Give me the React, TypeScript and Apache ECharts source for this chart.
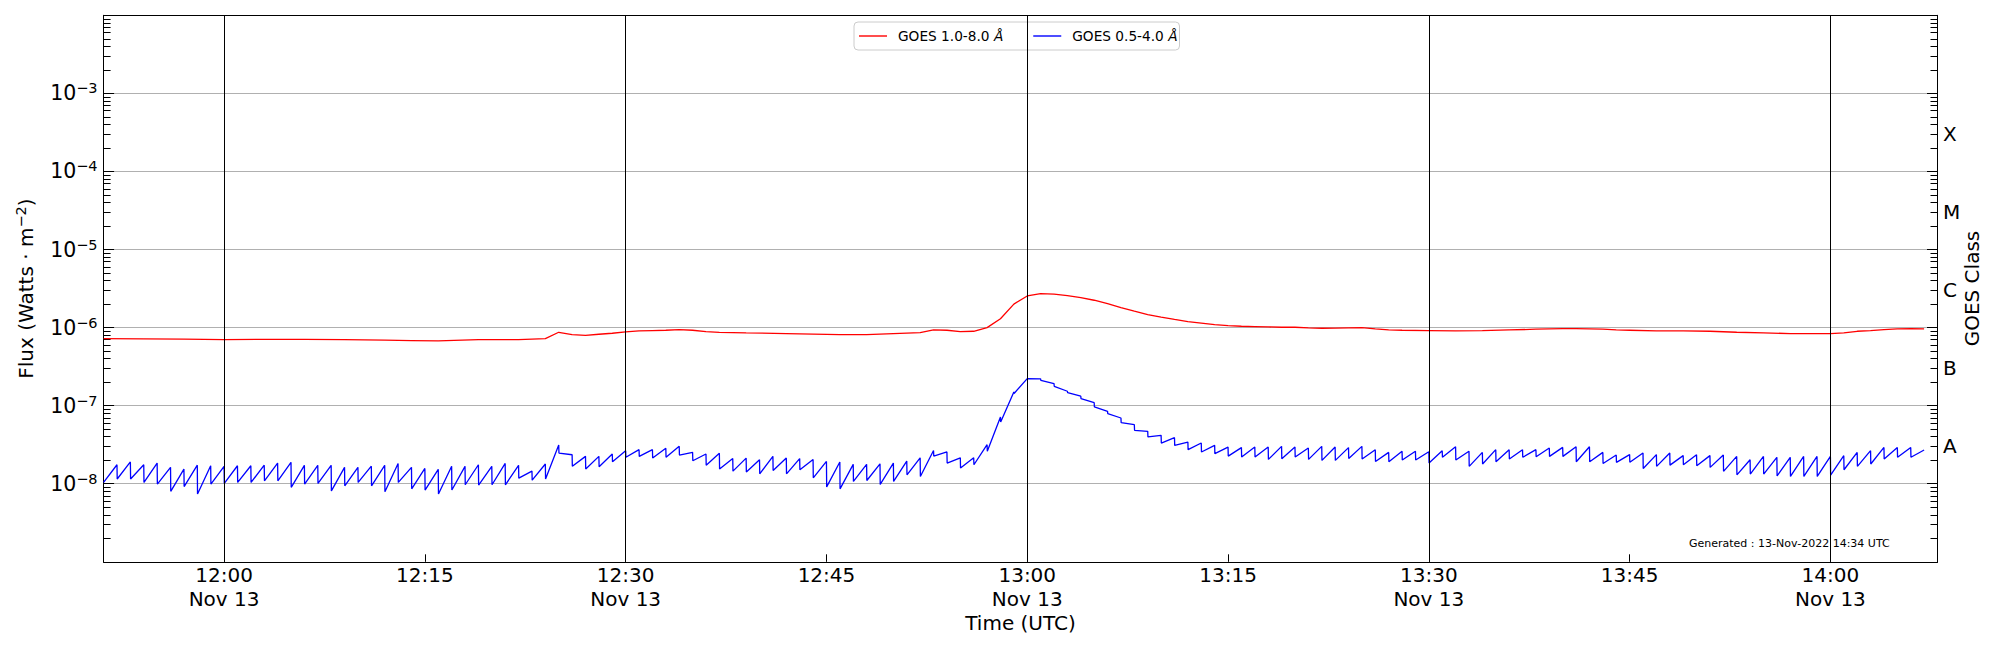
import { useEffect, useRef } from 'react';
import * as echarts from 'echarts';

// Time in minutes after midnight (UTC), 13 Nov 2022
const START_MIN = 711; // 11:51
const END_MIN = 848; // 14:08
const DATE_LABEL = 'Nov 13';
const X_TICKS = [720, 735, 750, 765, 780, 795, 810, 825, 840];
const X_GRID = [720, 750, 780, 810, 840];

const Y_MIN = 1e-9;
const Y_MAX = 1e-2;
const Y_LABEL_EXPONENTS = [-8, -7, -6, -5, -4, -3];
const GOES_CLASSES = ['A', 'B', 'C', 'M', 'X'];
const GOES_CLASS_LEVELS = [3e-8, 3e-7, 3e-6, 3e-5, 3e-4];

const LONG_NAME = 'GOES 1.0-8.0 Å';
const SHORT_NAME = 'GOES 0.5-4.0 Å';
const GENERATED_TEXT = 'Generated : 13-Nov-2022 14:34 UTC';

// GOES 1.0-8.0 Å flux (units of 1e-6 W/m²), minute offsets from 11:51
const redMinute = [0, 3, 6, 9, 12, 15, 18, 21, 23, 25, 28, 31, 33, 34, 35, 36, 37, 38, 39, 40,
  41, 42, 43, 44, 45, 46, 48, 51, 55, 57, 59, 61, 62, 63, 64, 65, 66, 67, 68, 69,
  70, 71, 72, 73, 74, 75, 76, 77, 78, 79, 80, 81, 82, 83, 84, 85, 86, 87, 88, 89,
  90, 91, 92, 94, 95, 96, 97, 99, 101, 103, 105, 107, 109, 110, 111, 112, 113, 114, 116, 118,
  120, 122, 124, 126, 129, 130, 131, 132, 133, 134, 135, 136];
const redFlux = [0.722, 0.715, 0.71, 0.702, 0.708, 0.708, 0.70, 0.69, 0.681, 0.674,
  0.702, 0.702, 0.722, 0.871, 0.813, 0.797, 0.822, 0.846, 0.880, 0.906,
  0.916, 0.925, 0.943, 0.925, 0.889, 0.870, 0.855, 0.838, 0.813, 0.813,
  0.838, 0.863, 0.933, 0.924, 0.889, 0.897, 1.00, 1.30, 2.00, 2.54,
  2.73, 2.68, 2.57, 2.42, 2.24, 2.03, 1.80, 1.62, 1.47, 1.36,
  1.27, 1.19, 1.14, 1.09, 1.06, 1.04, 1.03, 1.02, 1.01, 1.01,
  0.99, 0.98, 0.985, 1.00, 0.962, 0.933, 0.924, 0.915, 0.906, 0.915,
  0.933, 0.953, 0.971, 0.971, 0.962, 0.953, 0.933, 0.925, 0.905, 0.906,
  0.897, 0.871, 0.855, 0.838, 0.838, 0.855, 0.897, 0.915, 0.942, 0.962,
  0.971, 0.962];
const RED_UNIT = 1e-6;

// GOES 0.5-4.0 Å flux (units of 1e-8 W/m²): value reached at the end of each minute (minutes 1..136)
const blueTop = [
  1.75, 1.90, 1.75, 1.84, 1.62, 1.54, 1.73, 1.70, 1.67, 1.70,
  1.70, 1.73, 1.84, 1.88, 1.72, 1.72, 1.72, 1.62, 1.62, 1.68,
  1.72, 1.82, 1.62, 1.57, 1.53, 1.67, 1.67, 1.75, 1.67, 1.82,
  1.72, 1.45, 1.79, 3.13, 2.35, 2.24, 2.24, 2.40, 2.65, 2.73,
  2.73, 2.84, 3.01, 2.52, 2.40, 2.45, 2.10, 2.13, 2.03, 2.24,
  2.13, 2.10, 2.05, 1.93, 1.90, 1.77, 1.77, 1.80, 1.84, 1.95,
  2.15, 2.67, 2.55, 2.15, 2.15, 3.16, 7.16, 15.0, 22.2, 22.0,
  19.2, 15.3, 13.2, 10.9, 8.46, 6.95, 5.70, 4.69, 4.17, 3.89,
  3.42, 3.32, 3.10, 2.95, 2.90, 2.95, 2.95, 3.01, 2.95, 2.87,
  3.01, 2.95, 2.90, 3.01, 2.73, 2.52, 2.60, 2.60, 2.57, 2.65,
  2.98, 2.60, 2.52, 2.73, 2.73, 2.73, 2.73, 2.87, 2.92, 2.98,
  2.98, 2.52, 2.33, 2.36, 2.47, 2.36, 2.47, 2.29, 2.35, 2.29,
  2.33, 2.24, 2.03, 2.24, 2.18, 2.18, 2.24, 2.24, 2.24, 2.29,
  2.52, 2.65, 2.92, 2.92, 2.92, 2.70];
// value right after the reset at the start of each minute (minutes 0..135)
const blueBottom = [
  1.04, 1.15, 1.15, 1.04, 0.99, 0.80, 0.92, 0.74, 0.99, 1.01,
  1.04, 1.04, 1.09, 1.09, 0.90, 0.99, 1.01, 0.81, 0.94, 1.04,
  0.94, 0.79, 1.04, 0.86, 0.83, 0.74, 0.83, 0.97, 0.96, 0.97,
  0.97, 1.18, 1.11, 1.15, 2.47, 1.67, 1.54, 1.65, 1.91, 2.18,
  2.24, 2.13, 2.18, 2.33, 1.97, 1.73, 1.54, 1.45, 1.41, 1.34,
  1.48, 1.34, 1.51, 1.19, 0.91, 0.86, 1.07, 1.10, 0.98, 1.07,
  1.30, 1.24, 2.26, 1.84, 1.59, 1.75, 2.60, 6.18, 14.3, 21.9,
  21.1, 17.7, 14.7, 12.3, 9.62, 7.89, 6.05, 4.83, 3.97, 3.32,
  3.10, 2.73, 2.55, 2.43, 2.26, 2.20, 2.20, 2.05, 2.09, 2.20,
  2.05, 1.99, 1.99, 2.10, 2.07, 1.93, 1.91, 2.01, 2.01, 1.84,
  2.18, 2.01, 1.67, 1.79, 1.91, 2.07, 2.18, 2.22, 2.24, 2.24,
  1.91, 1.91, 1.82, 1.88, 1.88, 1.57, 1.67, 1.73, 1.75, 1.70,
  1.62, 1.44, 1.30, 1.33, 1.33, 1.26, 1.24, 1.24, 1.24, 1.29,
  1.51, 1.67, 1.79, 2.07, 2.18, 2.18];
const BLUE_UNIT = 1e-8;

const FONT = 'DejaVu Sans';

function buildOption() {
  const redData = redMinute.map((m, i) => [START_MIN + m, redFlux[i] * RED_UNIT]);
  const blueData: number[][] = [[START_MIN, blueBottom[0] * BLUE_UNIT]];
  for (let m = 1; m <= blueTop.length; m++) {
    blueData.push([START_MIN + m, blueTop[m - 1] * BLUE_UNIT]);
    if (m < blueBottom.length) blueData.push([START_MIN + m + 1 / 60, blueBottom[m] * BLUE_UNIT]);
  }

  const minorPositions: number[] = [];
  for (let e = -9; e < -2; e++) for (let k = 2; k <= 9; k++) minorPositions.push(e + Math.log10(k));
  const classPositions = GOES_CLASS_LEVELS.map((v) => Math.log10(v));

  const pad = (n: number) => (n < 10 ? '0' + n : '' + n);
  const xFormatter = (v: number) => {
    const h = Math.floor(v / 60);
    const mm = Math.round(v - h * 60);
    const s = `${h}:${pad(mm)}`;
    return mm % 30 === 0 ? `${s}\n${DATE_LABEL}` : s;
  };
  const yFormatter = (v: number) => {
    const e = Math.round(Math.log10(v));
    return Y_LABEL_EXPONENTS.includes(e) ? `{b|10}{s|−${-e}}` : '';
  };
  const black = '#000000';
  const supRich = {
    b: { fontSize: 20.5, color: black, fontFamily: FONT },
    s: { fontSize: 14.5, color: black, fontFamily: FONT, padding: [0, 0, 10, 0] },
    t: { fontSize: 20, color: black, fontFamily: FONT },
  };

  return {
    animation: false,
    backgroundColor: '#ffffff',
    textStyle: { fontFamily: FONT, color: black },
    grid: { left: 103.6, right: 62.5, top: 15.3, bottom: 88.2, containLabel: false, outerBoundsMode: 'none' },
    legend: {
      left: 854,
      top: 22,
      orient: 'horizontal',
      selectedMode: false,
      icon: 'rect',
      itemWidth: 28,
      itemHeight: 1.4,
      itemGap: 30,
      padding: [6, 2, 6, 5],
      borderColor: '#cccccc',
      borderWidth: 1,
      borderRadius: 4,
      backgroundColor: 'rgba(255,255,255,0.8)',
      data: [LONG_NAME, SHORT_NAME],
      formatter: (name: string) => name.replace('Å', '{i|Å}'),
      textStyle: {
        fontSize: 13.7,
        lineHeight: 16,
        color: black,
        fontFamily: FONT,
        padding: [0, 0, 0, 6],
        rich: { i: { fontSize: 13.7, fontStyle: 'italic', color: black, fontFamily: FONT } },
      },
    },
    xAxis: [
      {
        type: 'value',
        min: START_MIN,
        max: END_MIN,
        position: 'bottom',
        z: 3,
        axisLine: { show: true, onZero: false, lineStyle: { color: black, width: 1 } },
        axisTick: { show: true, inside: true, length: 7.5, customValues: X_TICKS, lineStyle: { color: black } },
        axisLabel: {
          customValues: X_TICKS,
          formatter: xFormatter,
          fontSize: 20,
          lineHeight: 23.3,
          color: black,
          margin: 2,
          fontFamily: FONT,
        },
        splitLine: { show: false },
        name: 'Time (UTC)',
        nameLocation: 'middle',
        nameGap: 51,
        nameMoveOverlap: false,
        nameTextStyle: { fontSize: 20, color: black, fontFamily: FONT },
      },
      {
        type: 'value',
        min: START_MIN,
        max: END_MIN,
        position: 'top',
        z: 3,
        axisLine: { show: true, onZero: false, lineStyle: { color: black, width: 1 } },
        axisTick: { show: false },
        axisLabel: { show: false },
        splitLine: { show: false },
      },
    ],
    yAxis: [
      {
        type: 'log',
        logBase: 10,
        min: Y_MIN,
        max: Y_MAX,
        splitNumber: 7,
        position: 'left',
        axisLine: { show: true, onZero: false, lineStyle: { color: black, width: 1 } },
        axisTick: { show: true, inside: true, length: 10.5, lineStyle: { color: black } },
        axisLabel: { formatter: yFormatter, rich: supRich, margin: 6 },
        splitLine: { show: true, lineStyle: { color: '#b0b0b0', width: 1 } },
        name: '{t|Flux (Watts · m}{s|−2}{t|)}',
        nameLocation: 'middle',
        nameRotate: 90,
        nameGap: 65,
        nameMoveOverlap: false,
        nameTextStyle: { rich: supRich },
      },
      {
        type: 'log',
        logBase: 10,
        min: Y_MIN,
        max: Y_MAX,
        splitNumber: 7,
        position: 'right',
        axisLine: { show: true, onZero: false, lineStyle: { color: black, width: 1 } },
        axisTick: { show: true, inside: true, length: 10.5, lineStyle: { color: black } },
        axisLabel: { show: false },
        splitLine: { show: false },
      },
      {
        type: 'value',
        min: -9,
        max: -2,
        position: 'left',
        axisLine: { show: false },
        axisTick: { show: true, inside: true, length: 7, customValues: minorPositions, lineStyle: { color: black } },
        axisLabel: { show: false },
        splitLine: { show: false },
      },
      {
        type: 'value',
        min: -9,
        max: -2,
        position: 'right',
        axisLine: { show: false },
        axisTick: { show: true, inside: true, length: 7, customValues: minorPositions, lineStyle: { color: black } },
        axisLabel: { show: false },
        splitLine: { show: false },
      },
      {
        type: 'value',
        min: -9,
        max: -2,
        position: 'right',
        axisLine: { show: false },
        axisTick: { show: false },
        axisLabel: {
          customValues: classPositions,
          formatter: (v: number) => {
            const i = classPositions.findIndex((p) => Math.abs(p - v) < 1e-6);
            return i >= 0 ? GOES_CLASSES[i] : '';
          },
          fontSize: 20,
          color: black,
          margin: 5.5,
          fontFamily: FONT,
        },
        splitLine: { show: false },
        name: 'GOES Class',
        nameLocation: 'middle',
        nameRotate: 90,
        nameGap: 24,
        nameMoveOverlap: false,
        nameTextStyle: { fontSize: 20, color: black, fontFamily: FONT },
      },
    ],
    series: [
      {
        name: LONG_NAME,
        type: 'line',
        xAxisIndex: 0,
        yAxisIndex: 0,
        data: redData,
        symbol: 'none',
        showSymbol: false,
        color: '#ff0000',
        lineStyle: { color: '#ff0000', width: 1.3 },
        silent: true,
        markLine: {
          silent: true,
          symbol: ['none', 'none'],
          label: { show: false },
          lineStyle: { color: black, type: 'solid', width: 1 },
          data: X_GRID.map((v) => ({ xAxis: v })),
        },
      },
      {
        name: SHORT_NAME,
        type: 'line',
        xAxisIndex: 0,
        yAxisIndex: 0,
        data: blueData,
        symbol: 'none',
        showSymbol: false,
        color: '#0000ff',
        lineStyle: { color: '#0000ff', width: 1.3 },
        silent: true,
      },
    ],
    graphic: {
      elements: [
        {
          type: 'text',
          left: 1689,
          top: 538,
          silent: true,
          style: { text: GENERATED_TEXT, fontSize: 11, fill: black, fontFamily: FONT },
        },
      ],
    },
  };
}

export default function App() {
  const ref = useRef<HTMLDivElement>(null);
  useEffect(() => {
    if (!ref.current) return;
    const chart = echarts.init(ref.current, null, { renderer: 'svg' });
    chart.setOption(buildOption() as any);
    return () => chart.dispose();
  }, []);
  return (
    <div
      ref={ref}
      style={{ position: 'fixed', left: 0, top: 0, width: 2000, height: 650, background: '#ffffff' }}
    />
  );
}
